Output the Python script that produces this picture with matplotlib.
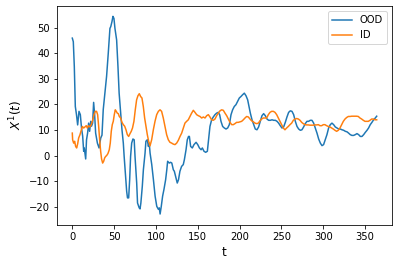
import matplotlib
matplotlib.use("Agg")
import matplotlib.pyplot as plt

# OOD series (t, value)
t_ood = [0, 1.2, 2.4, 3.6, 5, 6.4, 8, 9.6, 11, 12.4, 13.6, 14.3, 16, 17, 18.3, 19.5, 20.7, 22, 23, 24.3,
         25.5, 26.7, 27.9, 30, 32, 34, 35.5, 37, 39, 41, 43, 45, 46, 47.4, 48.6, 49.8, 51, 53, 54.6, 56,
         57.8, 59.4, 61, 62, 63.4, 65, 66, 67.4, 68.6, 69.7, 71, 72.5, 74, 75, 77, 78, 80, 81, 82, 83.7,
         85, 87, 88, 89.7, 91, 92, 93, 95, 97, 99, 101, 103, 104, 105, 106.4, 108, 109.6, 111.6, 113, 114,
         116, 117.6, 119, 120.8, 122, 124, 125.5, 127, 128.7, 130.7, 132.7, 134, 136, 137.5, 139, 140,
         141.5, 143.5, 145.5, 148, 150, 152, 154, 155.5, 157.5, 159.5, 161.5, 163, 164.6, 166.6, 168.6,
         170.6, 172.6, 174.6, 176.2, 177.8, 179.8, 181.8, 183.8, 185.8, 187.8, 189.8, 191.7, 193.7, 195.7,
         197.7, 199.7, 201.7, 203.7, 205.7, 207.7, 209.7, 211.3, 212.9, 214.9, 216.9, 218.8, 220.8, 222.8,
         224.8, 226.8, 228.8, 230.8, 232.8, 234.8, 236.8, 238.8, 240.8, 242.8, 244.8, 246.7, 248.7, 250.7,
         252.7, 254.7, 256.7, 258.7, 260.7, 262.7, 264.7, 266.7, 268.7, 270.7, 272.7, 274.6, 276.6, 278.6,
         280.6, 282.6, 284.6, 286.6, 288.6, 290.6, 292.6, 294.6, 296.6, 298.6, 300.5, 302.5, 304.5, 306.5,
         308.5, 310.5, 312.5, 314.5, 316.5, 318.5, 320.5, 322.5, 324.5, 326.5, 328.5, 330.4, 332.4, 334.4,
         336.4, 338.4, 340.4, 342.4, 344.4, 346.4, 348.4, 350.4, 352.4, 354.3, 356.3, 358.3, 360.3, 362.3,
         364]
ood = [45.9, 44.5, 34.8, 19.2, 16.0, 12.0, 17.3, 16.0, 10.8, 7.6, 1.7, 3.0, -1.3, 6.2, 8.8, 12.7, 9.5, 13.4, 11.5, 12.7,
       20.8, 16.0, 8.8, 4.9, 3.0, 6.9, 8.0, 18.0, 24.4, 31.0, 40.0, 49.7, 50.4, 52.3, 54.4, 53.6, 49.7, 45.2, 34.8, 24.4,
       16.6, 10.1, 4.9, -0.3, -6.8, -13.9, -16.5, -16.5, -9.4, -0.3, 4.9, 6.5, 6.2, -0.3, -10.7, -18.5, -20.4, -20.8, -18.5, -12.0,
       -5.5, 1.0, 5.6, 6.2, 3.6, 4.9, 1.0, -3.5, -9.4, -15.8, -19.8, -21.0, -20.4, -22.8, -19.8, -15.8, -13.2, -9.4, -5.5, -2.2,
       -2.9, -2.6, -2.9, -5.5, -6.1, -8.7, -10.7, -9.4, -6.1, -4.2, -3.5, -1.6, 2.3, 6.2, 7.5, 7.5,
       3.6, 3.0, 4.3, 5.2, 4.3, 3.0, 2.3, 3.0, 1.7, 1.3, 1.7, 6.2, 11.4, 14.0, 15.1,
       16.0, 16.6, 16.9, 16.0, 13.4, 11.4, 10.8, 10.4, 10.8, 12.1, 16.0, 17.9, 19.2, 19.9,
       21.2, 22.5, 23.1, 23.8, 24.4, 23.4, 21.8, 19.2, 16.6, 14.0, 12.1, 10.4, 10.1, 11.2,
       13.4, 15.6, 16.4, 15.6, 14.3, 13.8, 13.8, 14.0, 13.8, 13.8, 13.4, 12.7, 11.7, 10.8,
       11.2, 13.0, 15.1, 16.9, 17.5, 17.3, 16.0, 13.4, 11.4, 10.4, 9.9, 10.1, 11.2, 12.5,
       13.4, 13.4, 13.8, 13.8, 12.7, 10.8, 8.8, 6.5, 4.9, 3.9, 4.3, 6.2, 8.2, 10.8,
       12.1, 12.7, 12.1, 11.2, 10.8, 10.4, 10.4, 10.1, 9.9, 9.5, 9.3, 8.8, 8.2, 7.9,
       7.9, 8.2, 8.6, 8.2, 7.5, 7.5, 8.2, 9.1, 9.9, 10.8, 12.1, 13.0, 14.0, 14.7,
       15.4]

# ID series (t, value)
t_id = [0, 0.4, 1.6, 2.8, 4, 5.2, 6.4, 7.6, 9.2, 10.8, 12, 13.6, 15.1, 16.7, 18, 19.5, 21, 22.7, 24.3, 26,
        27.5, 29, 30.3, 31.5, 32.7, 33.9, 35, 36.3, 37.5, 38.7, 39.9, 41, 42.6, 44.2, 45.4, 46.6, 47.8, 49,
        50.2, 51.4, 52.6, 53.8, 55, 56.2, 57.8, 59.4, 61, 62.6, 64.2, 65.8, 67.4, 69, 70.5, 72, 73.7, 75.3,
        76.9, 78.5, 80.1, 81.7, 83.3, 84.9, 86.5, 88.1, 89.7, 91.3, 92.9, 94.9, 96.9, 98.9, 100.9, 102.9,
        104.9, 106.8, 108.8, 110.8, 112.8, 114.8, 116.8, 118.8, 120.8, 122.8, 124.8, 126.8, 128.8, 130.8,
        132.8, 134.7, 136.7, 138.7, 140.7, 142.7, 144.7, 146.7, 148.7, 150.7, 152.7, 154.7, 156.7, 158.7,
        160.7, 162.7, 164.6, 166.6, 168.6, 170.6, 172.6, 174.6, 176.6, 178.6, 180.6, 182.6, 184.6, 186.6,
        188.6, 190.6, 192.5, 194.5, 196.5, 198.5, 200.5, 202.5, 204.5, 206.5, 208.5, 210.5, 212.5, 214.5,
        216.5, 218.5, 220.5, 222.5, 224.4, 226.4, 228.4, 230.4, 232.4, 234.4, 236.4, 238.4, 240.4, 242.4,
        244.4, 246.4, 248.4, 250.3, 252.3, 254.3, 256.3, 258.3, 260.3, 262.3, 264.3, 266.3, 268.3, 270.3,
        272.3, 274.3, 276.2, 278.2, 280.2, 282.2, 284.2, 286.2, 288.2, 290.2, 292.2, 294.2, 296.2, 298.2,
        300.2, 302.1, 304.1, 306.1, 308.1, 310.1, 312.1, 314.1, 316.1, 318.1, 320.1, 322.1, 324.1, 326.1,
        328.1, 330.1, 332.1, 334.1, 336.1, 338, 340, 342, 344, 346, 348, 350, 352, 354, 356, 358, 360, 362,
        364]
iid = [8.8, 6.2, 4.9, 5.6, 3.6, 3.0, 4.6, 6.9, 8.2, 10.1, 11.4, 10.8, 11.2, 11.7, 10.8, 11.7, 11.2, 12.1, 13.8, 16.0,
       17.3, 17.3, 16.0, 11.5, 6.2, 1.7, -1.3, -2.9, -2.2, -0.9, -0.3, 0.0, 0.8, 2.3, 4.9, 9.5, 12.1, 13.4,
       16.0, 17.9, 17.3, 16.6, 16.4, 15.3, 14.7, 13.0, 12.1, 11.5, 10.1, 8.2, 7.5, 8.6, 9.5, 10.8, 13.4, 17.9,
       21.8, 23.4, 24.2, 23.1, 22.5, 19.2, 14.7, 11.5, 8.2, 5.6, 3.8, 6.2, 10.1, 13.4, 16.0, 17.3,
       17.9, 17.3, 14.7, 11.4, 8.2, 6.2, 5.2, 4.9, 4.5, 4.3, 4.9, 6.0, 7.5, 8.8,
       10.8, 12.7, 13.4, 14.0, 15.3, 16.6, 17.7, 16.9, 16.0, 15.6, 15.3, 14.7, 15.1, 14.7,
       15.6, 16.0, 15.1, 14.0, 13.8, 14.3, 15.6, 16.6, 17.5, 17.9, 17.7, 16.6, 15.6, 14.3,
       13.0, 12.1, 12.1, 12.5, 13.0, 13.0, 13.2, 13.4, 14.0, 14.7, 15.3, 15.1, 14.3, 13.6,
       13.2, 12.7, 12.5, 12.7, 13.6, 14.3, 14.7, 14.7, 14.7, 16.0, 16.9, 17.3, 17.3, 16.9,
       16.0, 14.7, 13.4, 12.1, 10.8, 10.1, 10.8, 11.4, 12.1, 12.7, 13.8, 14.3, 14.5, 14.3,
       13.8, 13.0, 12.5, 12.1, 12.0, 12.0, 11.9, 11.9, 11.9, 12.0, 12.0, 12.1, 11.7, 11.7,
       12.1, 12.1, 11.7, 11.4, 11.2, 10.8, 10.4, 9.9, 9.5, 9.9, 10.8, 12.1, 13.4, 14.3,
       14.9, 15.3, 15.3, 15.4, 15.4, 15.4, 15.4, 15.3, 14.7, 14.3, 13.8, 13.4, 13.4, 13.4, 13.8, 14.3, 14.3, 14.0,
       14.0]

fig = plt.figure(figsize=(398 / 72, 265 / 72), dpi=72)
ax = fig.add_axes([57 / 398, 1 - 224.5 / 265, 335 / 398, 218.5 / 265])
ax.plot(t_ood, ood, color="#1f77b4", lw=1.5, label="OOD")
ax.plot(t_id, iid, color="#ff7f0e", lw=1.5, label="ID")
ax.set_xlim(-18.3, 382.3)
ax.set_ylim(-26.9, 58.45)
ax.set_xticks([0, 50, 100, 150, 200, 250, 300, 350])
ax.set_yticks([-20, -10, 0, 10, 20, 30, 40, 50])
ax.set_xlabel("t", fontsize=12)
ax.set_ylabel("$X^1(t)$", fontsize=12)
ax.legend(loc="upper right")
fig.savefig("out.png", dpi=72)
